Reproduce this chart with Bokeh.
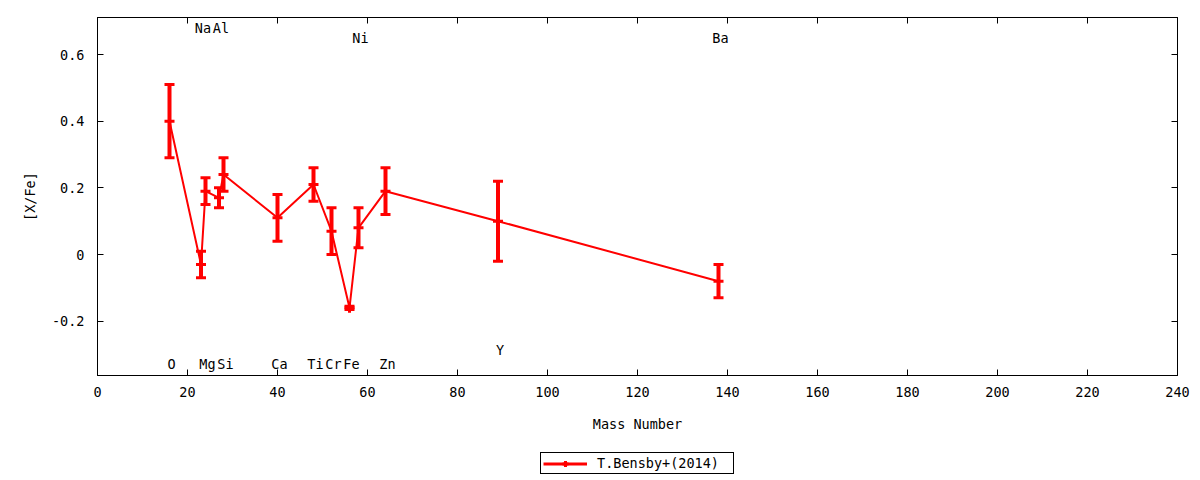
from bokeh.plotting import figure
from bokeh.layouts import column
from bokeh.models import (Range1d, FixedTicker, LinearAxis, Legend, LegendItem,
                          ColumnDataSource, CustomJSTickFormatter)
from bokeh.core.properties import value
from bokeh.embed import file_html
from bokeh.resources import INLINE

# ---- data ----
elements = ["O", "Na", "Mg", "Al", "Si", "Ca", "Ti", "Cr", "Fe", "Ni", "Zn", "Y", "Ba"]
mass_number = [16, 23, 24, 27, 28, 40, 48, 52, 56, 58, 64, 89, 138]
x_fe = [0.40, -0.03, 0.19, 0.17, 0.24, 0.11, 0.21, 0.07, -0.16, 0.08, 0.19, 0.10, -0.08]
x_fe_err = [0.11, 0.04, 0.04, 0.03, 0.05, 0.07, 0.05, 0.07, 0.005, 0.06, 0.07, 0.12, 0.05]
label_row = ["bottom", "top", "bottom", "top", "bottom", "bottom", "bottom",
             "bottom", "bottom", "top2", "bottom", "bottom2", "top2"]
series_name = "T.Bensby+(2014)"
x_ticks = [0, 20, 40, 60, 80, 100, 120, 140, 160, 180, 200, 220, 240]
y_ticks = [-0.2, 0, 0.2, 0.4, 0.6]
y_tick_labels = ["-0.2", "0", "0.2", "0.4", "0.6"]

# ---- styling ----
FONT = "DejaVu Sans Mono"
FS = "13.5px"
RED = "#ff0000"
row_y = {"top": 0.68, "top2": 0.65, "bottom": -0.327, "bottom2": -0.285}

lower = [v - e for v, e in zip(x_fe, x_fe_err)]
upper = [v + e for v, e in zip(x_fe, x_fe_err)]
src = ColumnDataSource(dict(x=mass_number, y=x_fe, lo=lower, hi=upper))
lab_src = ColumnDataSource(dict(x=mass_number, y=[row_y[r] for r in label_row], t=elements))

p = figure(width=1200, height=440, output_backend="svg", toolbar_location=None,
           x_range=Range1d(0, 240), y_range=Range1d(-0.363, 0.711),
           min_border_left=97, min_border_right=23, min_border_top=17,
           min_border_bottom=65)
p.grid.visible = False
p.outline_line_color = "black"
p.background_fill_color = "white"
p.border_fill_color = "white"

for ax in (p.xaxis[0], p.yaxis[0]):
    ax.major_tick_in = 6
    ax.major_tick_out = 0
    ax.minor_tick_line_color = None
    ax.major_label_text_font = FONT
    ax.major_label_text_font_size = FS
    ax.major_label_text_color = "black"
    ax.axis_label_text_font = FONT
    ax.axis_label_text_font_size = FS
    ax.axis_label_text_font_style = "normal"
    ax.axis_label_text_color = "black"
    ax.axis_line_color = "black"

p.xaxis[0].ticker = FixedTicker(ticks=x_ticks)
p.xaxis[0].axis_label = "Mass Number"
p.xaxis[0].major_label_standoff = 11
p.xaxis[0].axis_label_standoff = 16

p.yaxis[0].ticker = FixedTicker(ticks=y_ticks)
p.yaxis[0].major_label_overrides = {t: s for t, s in zip(y_ticks, y_tick_labels)}
p.yaxis[0].axis_label = "[X/Fe]"
p.yaxis[0].major_label_standoff = 13
p.yaxis[0].axis_label_standoff = 11

blank = CustomJSTickFormatter(code="return '';")
top_ax = LinearAxis(ticker=FixedTicker(ticks=x_ticks), major_tick_in=6, major_tick_out=0,
                    minor_tick_line_color=None, formatter=blank, major_label_standoff=0,
                    axis_line_color="black")
right_ax = LinearAxis(ticker=FixedTicker(ticks=y_ticks), major_tick_in=6, major_tick_out=0,
                      minor_tick_line_color=None, formatter=blank, major_label_standoff=0,
                      axis_line_color="black")
p.add_layout(top_ax, "above")
p.add_layout(right_ax, "right")

# connecting line
line_r = p.line("x", "y", source=src, line_color=RED, line_width=2)
# error bars
p.segment(x0="x", y0="lo", x1="x", y1="hi", source=src, line_color=RED, line_width=4)
p.scatter("x", "lo", source=src, marker="dash", size=10, line_color=RED, line_width=3)
p.scatter("x", "hi", source=src, marker="dash", size=10, line_color=RED, line_width=3)
pt_r = p.scatter("x", "y", source=src, marker="cross", size=10, line_color=RED, line_width=3)

# element labels
p.text("x", "y", text="t", source=lab_src, text_align="center", text_baseline="middle",
       x_offset=2, text_font=value(FONT), text_font_size=FS, text_color="black")

# legend strip below the plot (its frame lines up with the main frame)
q = figure(width=1200, height=40, output_backend="svg", toolbar_location=None,
           x_range=Range1d(0, 1), y_range=Range1d(0, 1),
           min_border_left=0, min_border_right=0, min_border_top=0, min_border_bottom=0)
q.axis.visible = False
q.grid.visible = False
q.outline_line_color = None
q.border_fill_color = "white"
# proxy renderers kept outside the strip's range: only their legend glyphs show
leg_line = q.line(x=[-5, -4], y=[-5, -5], line_color=RED, line_width=3)
leg_pt = q.scatter(x=[-5], y=[-5], marker="cross", size=10, line_color=RED, line_width=3)
legend = Legend(items=[LegendItem(label=series_name, renderers=[leg_line, leg_pt])],
                location=(443, 6), orientation="horizontal",
                label_text_font=FONT, label_text_font_size=FS, label_text_color="black",
                border_line_color="black", border_line_width=1, border_line_alpha=1,
                glyph_width=44, glyph_height=15, padding=2, margin=0,
                label_standoff=10, spacing=0, label_height=15, label_width=134)
q.add_layout(legend)

layout = column(p, q, spacing=0)
open("out.html", "w").write(file_html(layout, INLINE))
